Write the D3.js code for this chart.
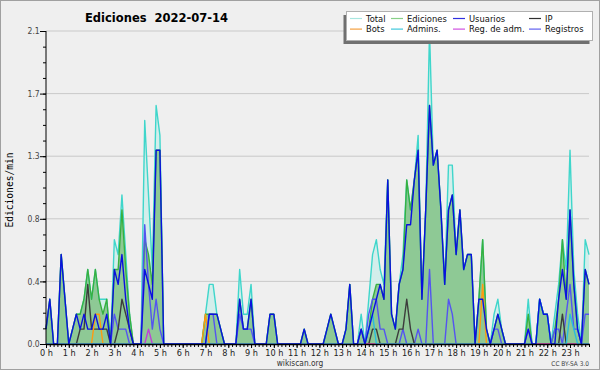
<!DOCTYPE html>
<html>
<head>
<meta charset="utf-8">
<script src="https://cdn.jsdelivr.net/npm/d3@7"></script>
<style>
  html, body { margin: 0; padding: 0; background: #efefef; }
  svg { display: block; }
  text { font-family: "DejaVu Sans", sans-serif; }
</style>
</head>
<body>
<script>
// values are edits per minute, one per 10-minute slot (6 per hour)
var hours = d3.range(24)
var hourLabels = hours.map(function(h) { return h + " h" })

var total = [
  0.1,0.3,0,0,0.6,0.3,  0,0.1,0.2,0.2,0.3,0.5,  0.3,0.5,0.3,0.3,0.3,0,  0.7,0.6,1.0,0.6,0.2,0,
  0,0,1.5,1.0,0.5,1.6,  1.4,0,0,0,0,0,  0,0,0,0,0,0,  0.2,0.4,0.4,0.2,0.1,0,
  0,0,0,0.5,0.2,0.2,  0.4,0,0,0,0,0.2,  0.2,0,0,0,0,0,  0,0,0.1,0,0,0,
  0,0,0.1,0.2,0.1,0,  0,0.1,0.4,0,0,0.2,  0,0.3,0.6,0.7,0.5,0.4,  1.1,0.2,0.1,0.4,0.6,1.1,
  0.9,1.1,1.4,0.3,0.9,2.1,  1.2,1.3,0.9,0.4,1.2,1.2,  0.6,0.9,0.5,0.6,0.6,0,  0.3,0.7,0.1,0,0.2,0.3,
  0.1,0,0,0,0,0,  0,0.3,0,0,0.3,0.2,  0.2,0,0.2,0.4,0.7,0.5,  1.3,0.5,0.2,0,0.7,0.6
]
var ediciones = [
  0.1,0.3,0,0,0.6,0.3,  0,0.1,0.2,0.2,0.3,0.5,  0.3,0.5,0.3,0.2,0.3,0,  0.5,0.5,0.9,0.5,0.2,0,
  0,0,0.7,0.6,0.4,1.3,  1.3,0,0,0,0,0,  0,0,0,0,0,0,  0.2,0.2,0.2,0.2,0.1,0,
  0,0,0,0.3,0.1,0.1,  0.3,0,0,0,0,0.2,  0.2,0,0,0,0,0,  0,0,0.1,0,0,0,
  0,0,0.1,0.2,0.1,0,  0,0.1,0.4,0,0,0.1,  0,0.1,0.3,0.4,0.4,0.3,  1.1,0.2,0.1,0.4,0.5,1.1,
  0.9,1.1,1.3,0.3,0.9,1.6,  1.2,1.3,0.9,0.4,0.9,1.0,  0.6,0.9,0.5,0.6,0.6,0,  0.3,0.7,0.1,0,0.1,0.2,
  0.1,0,0,0,0,0,  0,0.2,0,0,0.3,0.2,  0.2,0,0.1,0.3,0.7,0.3,  0.9,0.4,0.1,0,0.5,0.4
]
var usuarios = [
  0.1,0.3,0,0,0.6,0.3,  0,0.1,0.2,0.1,0.2,0.1,  0.1,0.2,0.1,0.1,0.2,0,  0.5,0.4,0.6,0.3,0.1,0,
  0,0,0.5,0.4,0.3,1.3,  1.3,0,0,0,0,0,  0,0,0,0,0,0,  0,0.2,0.2,0.2,0.1,0,
  0,0,0,0.3,0.1,0.1,  0.3,0,0,0,0,0.2,  0.2,0,0,0,0,0,  0,0,0.1,0,0,0,
  0,0,0.1,0.2,0.1,0,  0,0.1,0.4,0,0,0.1,  0,0.1,0.2,0.3,0.4,0.3,  1.1,0.2,0.1,0.4,0.5,0.8,
  0.8,1.1,1.3,0.3,0.9,1.6,  1.2,1.3,0.9,0.4,0.9,1.0,  0.6,0.9,0.5,0.6,0.6,0,  0.3,0.3,0.1,0,0.1,0.2,
  0.1,0,0,0,0,0,  0,0.1,0,0,0.3,0.2,  0.2,0,0,0.3,0.5,0.3,  0.9,0.4,0.1,0,0.5,0.4
]
var ip = [
  0,0,0,0,0,0,  0,0,0,0.1,0.1,0.4,  0.1,0.1,0.1,0.1,0.1,0,  0,0.1,0.3,0.2,0.1,0,
  0,0,0,0,0,0,  0,0,0,0,0,0,  0,0,0,0,0,0,  0,0,0,0,0,0,
  0,0,0,0,0,0,  0,0,0,0,0,0,  0,0,0,0,0,0,  0,0,0,0,0,0,
  0,0,0,0,0,0,  0,0,0,0,0,0,  0,0,0.1,0.1,0,0,  0,0,0,0.1,0.1,0.3,
  0.1,0,0,0,0,0,  0,0,0,0,0,0,  0,0,0,0,0,0,  0,0,0,0,0,0,
  0,0,0,0,0,0,  0,0,0,0,0,0,  0,0,0,0,0.2,0,  0,0,0,0,0,0
]
var bots = [
  0,0,0,0,0,0,  0,0,0,0,0,0,  0,0.2,0.2,0,0,0,  0,0,0,0,0,0,
  0,0,0,0,0,0,  0,0,0,0,0,0,  0,0,0,0,0,0,  0.2,0,0,0,0,0,
  0,0,0,0,0,0,  0,0,0,0,0,0,  0,0,0,0,0,0,  0,0,0,0,0,0,
  0,0,0,0,0,0,  0,0,0,0,0,0,  0,0,0,0,0,0,  0,0,0,0,0,0,
  0,0,0,0,0,0,  0,0,0,0,0,0,  0,0,0,0,0,0,  0,0.4,0,0,0,0,
  0,0,0,0,0,0,  0,0,0,0,0,0,  0,0,0,0,0,0,  0,0,0,0,0,0
]
var admins = [
  0,0,0,0,0,0,  0,0,0,0,0,0,  0,0,0,0,0,0,  0,0,0,0,0,0,
  0,0,0,0,0,0,  0,0,0,0,0,0,  0,0,0,0,0,0,  0,0,0,0,0,0,
  0,0,0,0,0,0,  0,0,0,0,0,0,  0,0,0,0,0,0,  0,0,0,0,0,0,
  0,0,0,0,0,0,  0,0,0,0,0,0,  0,0.1,0.2,0,0,0,  0,0,0,0,0,0,
  0,0,0,0,0,0,  0,0,0,0,0,0,  0,0,0,0,0,0,  0,0,0,0,0,0,
  0,0,0,0,0,0,  0,0,0,0,0.3,0.2,  0.2,0,0,0,0,0,  0.2,0.1,0,0,0,0
]
var regAdm = [
  0,0,0,0,0,0,  0,0,0,0,0,0,  0,0,0,0,0,0,  0,0,0,0,0,0,
  0,0,0,0.1,0,0,  0,0,0,0,0,0,  0,0,0,0,0,0,  0,0,0,0,0,0,
  0,0,0,0,0,0,  0,0,0,0,0,0,  0,0,0,0,0,0,  0,0,0,0,0,0,
  0,0,0,0,0,0,  0,0,0,0,0,0,  0,0,0,0,0,0,  0,0,0,0,0,0,
  0,0,0,0,0,0,  0,0,0,0,0,0,  0,0,0,0,0,0,  0,0,0,0,0,0,
  0,0,0,0,0,0,  0,0,0,0,0,0,  0,0,0,0,0,0,  0,0,0,0,0,0
]
var registros = [
  0,0,0,0,0,0,  0,0,0,0,0,0,  0,0,0,0,0,0,  0.2,0.1,0.1,0.1,0,0,
  0,0,0.8,0.4,0.1,0.3,  0.1,0,0,0,0,0,  0,0,0,0,0,0,  0,0.2,0.2,0,0,0,
  0,0,0,0.2,0.1,0.1,  0.1,0,0,0,0,0,  0,0,0,0,0,0,  0,0,0,0,0,0,
  0,0,0,0,0,0,  0,0,0,0,0,0.1,  0,0.2,0.3,0.3,0.1,0.1,  0,0,0,0,0.1,0,
  0,0,0.1,0,0,0.5,  0,0,0,0,0.3,0.2,  0,0,0,0,0,0,  0,0,0,0,0.1,0.1,
  0,0,0,0,0,0,  0,0.1,0,0,0,0,  0,0,0.1,0.1,0,0.2,  0.4,0.1,0.1,0,0.2,0.2
]

var yMax = 2.1
var yTicks = d3.range(6).map(function(i) { return yMax * i / 5 })

var width = 600, height = 370
var plotL = 46, plotR = 589, plotT = 31, plotB = 344

var svg = d3.select("body").append("svg")
    .attr("width", width)
    .attr("height", height)

svg.append("rect")
    .attr("x", 0.5).attr("y", 0.5)
    .attr("width", width - 1).attr("height", height - 1)
    .attr("fill", "#efefef")
    .attr("stroke", "#a0a0a0")

var x = d3.scaleLinear().domain([0, total.length - 1]).range([plotL, plotR])
var y = d3.scaleLinear().domain([0, yMax]).range([plotB, plotT])

// grid
svg.append("g").selectAll("line")
    .data(yTicks.slice(1))
    .enter().append("line")
    .attr("x1", plotL).attr("x2", plotR)
    .attr("y1", function(d) { return y(d) }).attr("y2", function(d) { return y(d) })
    .attr("stroke", "#c9c9c9")

var area = d3.area()
    .x(function(d, i) { return x(i) })
    .y0(plotB)
    .y1(function(d) { return y(d) })
var line = d3.line()
    .x(function(d, i) { return x(i) })
    .y(function(d) { return y(d) })

svg.append("path").datum(total).attr("d", area).attr("fill", "#d3eeeb")
svg.append("path").datum(ediciones).attr("d", area).attr("fill", "#8ec995")

var series = [
    { data: total, color: "#3fd6cb" },
    { data: ediciones, color: "#38b040" },
    { data: registros, color: "#5454f0" },
    { data: ip, color: "#3c3c3c" },
    { data: bots, color: "#ff9a10" },
    { data: regAdm, color: "#c040d8" },
    { data: admins, color: "#28bce0" },
    { data: usuarios, color: "#0a10e0" }
]
series.forEach(function(s) {
    svg.append("path").datum(s.data)
        .attr("d", line)
        .attr("fill", "none")
        .attr("stroke", s.color)
        .attr("stroke-width", 1.4)
        .attr("stroke-linejoin", "round")
})

// y axis
var yMinor = d3.range(21).map(function(i) { return yMax * i / 20 })
svg.append("g")
    .attr("transform", "translate(" + plotL + ",0)")
    .call(d3.axisLeft(y).tickValues(yMinor).tickSize(3).tickFormat(""))
svg.append("g")
    .attr("class", "yaxis")
    .attr("transform", "translate(" + plotL + ",0)")
    .call(d3.axisLeft(y).tickValues(yTicks).tickSize(6).tickPadding(1).tickFormat(d3.format(".1f")))
svg.selectAll(".yaxis text").attr("font-size", 8.5).attr("fill", "#444")
    .attr("transform", "scale(0.9,1)")
svg.selectAll("g .domain").remove()
svg.append("line")
    .attr("x1", plotL).attr("x2", plotL).attr("y1", plotT).attr("y2", plotB)
    .attr("stroke", "#000")

// x axis
var xg = svg.append("g")
    .attr("transform", "translate(0," + plotB + ")")
xg.call(d3.axisBottom(x).tickValues(d3.range(total.length)).tickSize(3).tickFormat(""))
xg.select(".domain").remove()
var xl = svg.append("g")
    .attr("transform", "translate(0," + plotB + ")")
    .call(d3.axisBottom(x).tickValues(hours.map(function(h) { return h * 6 }))
        .tickSize(4).tickPadding(1)
        .tickFormat(function(d, i) { return hourLabels[i] }))
xl.select(".domain").remove()
xl.selectAll("text").attr("font-size", 9.5).attr("fill", "#222")
    .attr("transform", "scale(0.86,1)")
svg.append("line")
    .attr("x1", plotL).attr("x2", plotR + 1).attr("y1", plotB + 0.5).attr("y2", plotB + 0.5)
    .attr("stroke", "#000").attr("stroke-width", 1.5)

// title
svg.append("text")
    .attr("x", 85).attr("y", 22)
    .attr("font-size", 11.5).attr("font-weight", "bold")
    .style("white-space", "pre")
    .text("Ediciones  2022-07-14")

svg.append("text")
    .attr("transform", "translate(13,190) rotate(-90)")
    .attr("text-anchor", "middle")
    .attr("font-size", 9.6)
    .style("font-family", "'DejaVu Sans Mono', monospace")
    .text("Ediciones/min")

svg.append("text")
    .attr("transform", "translate(300,366) scale(0.88,1)")
    .attr("text-anchor", "middle").attr("font-size", 8.5).attr("fill", "#333")
    .text("wikiscan.org")
svg.append("text")
    .attr("transform", "translate(589,366) scale(0.9,1)")
    .attr("text-anchor", "end").attr("font-size", 6.5).attr("fill", "#444")
    .text("CC BY-SA 3.0")

// legend
var legendItems = [
    { name: "Total", color: "#a8e6e0", col: 0, row: 0 },
    { name: "Bots", color: "#f4a040", col: 0, row: 1 },
    { name: "Ediciones", color: "#88d088", col: 1, row: 0 },
    { name: "Admins.", color: "#40c8dc", col: 1, row: 1 },
    { name: "Usuarios", color: "#3030e0", col: 2, row: 0 },
    { name: "Reg. de adm.", color: "#d050e0", col: 2, row: 1 },
    { name: "IP", color: "#303030", col: 3, row: 0 },
    { name: "Registros", color: "#6060f0", col: 3, row: 1 }
]
var colX = [350, 391, 453, 529]
var lg = svg.append("g")
lg.append("rect").attr("x", 343.5).attr("y", 15).attr("width", 246).attr("height", 29).attr("fill", "#707070")
lg.append("rect").attr("x", 346.5).attr("y", 11.5).attr("width", 246).attr("height", 29)
    .attr("fill", "#fff").attr("stroke", "#b0b0b0")
var li = lg.selectAll("g.item").data(legendItems).enter().append("g")
    .attr("transform", function(d) { return "translate(" + colX[d.col] + "," + (18.5 + d.row * 10.6) + ")" })
li.append("line").attr("x1", 0).attr("x2", 12).attr("y1", 0).attr("y2", 0)
    .attr("stroke", function(d) { return d.color }).attr("stroke-width", 1.2)
li.append("text").attr("transform", "translate(16,3.2) scale(0.93,1)")
    .attr("font-size", 9).attr("fill", "#111")
    .text(function(d) { return d.name })
</script>
</body>
</html>
